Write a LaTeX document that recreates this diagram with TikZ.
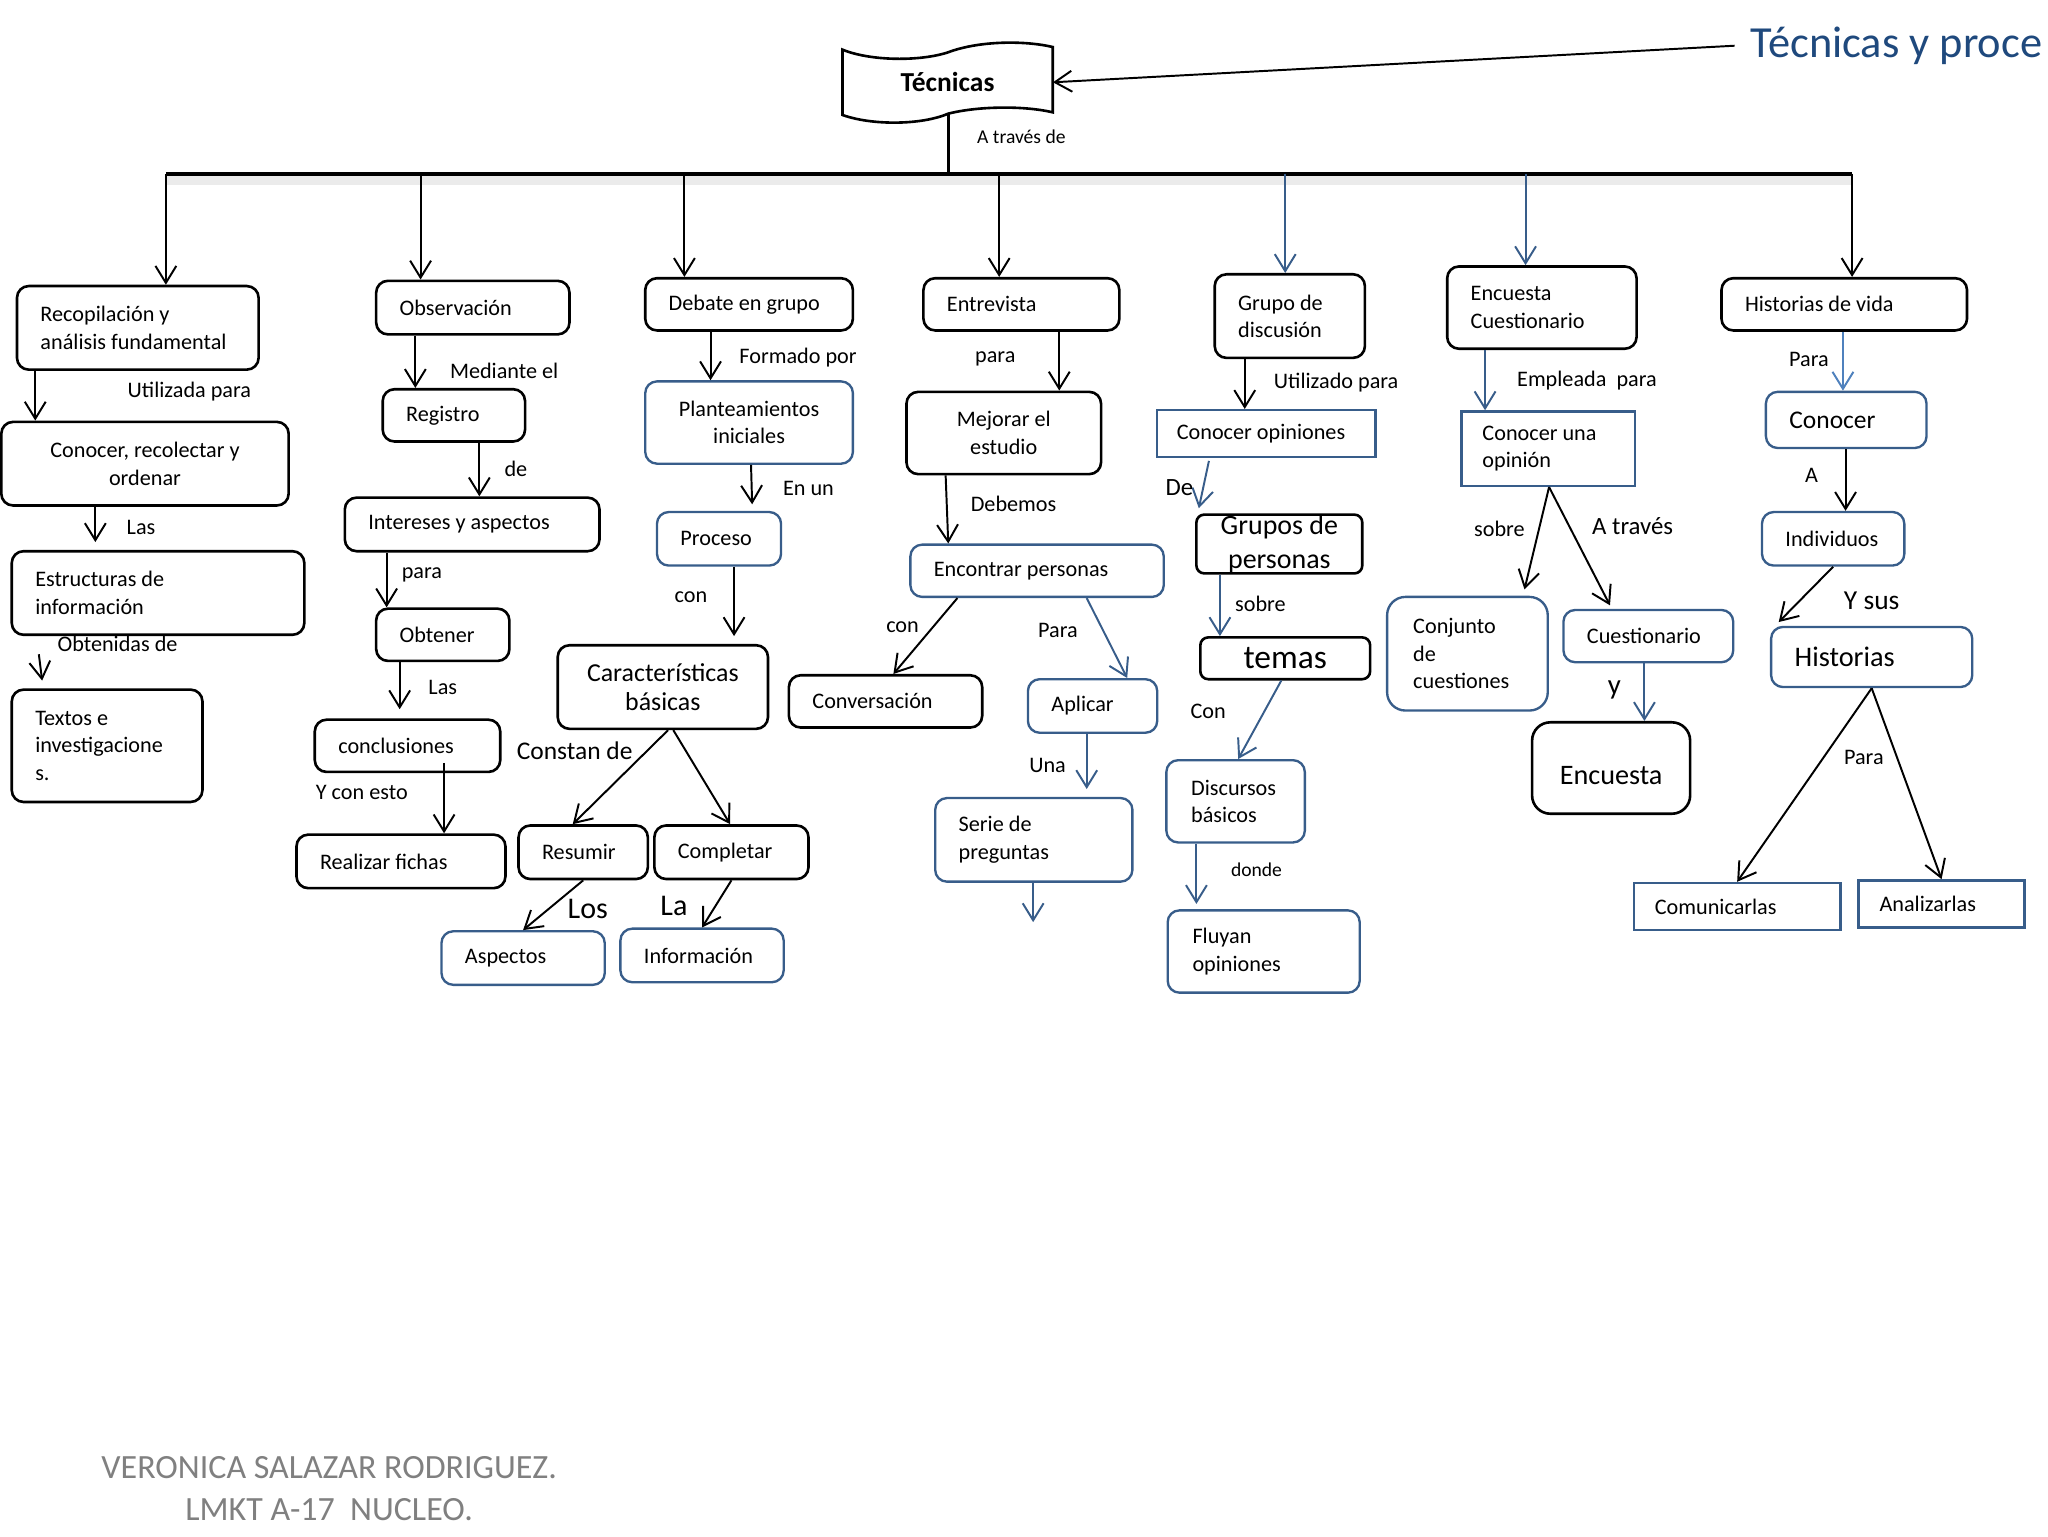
\documentclass[tikz,border=0pt]{standalone}
\usepackage{fontspec}
\setmainfont{Carlito}
\usetikzlibrary{arrows.meta}

\definecolor{cajaazul}{RGB}{56,93,138}
\definecolor{flechaclara}{RGB}{79,129,189}
\definecolor{tituloazul}{RGB}{31,73,125}
\definecolor{gris}{RGB}{128,128,128}

\tikzset{
  caja/.style={draw, rounded corners=9pt, line width=2pt, inner xsep=18pt,
    inner ysep=0pt, align=flush left, font=\fontsize{17}{21}\selectfont},
  azul/.style={draw=cajaazul, line width=1.8pt},
  centro/.style={align=flush center},
  etiq/.style={inner sep=0pt, font=\fontsize{17}{21}\selectfont},
  flecha/.style={-{Straight Barb[length=13pt,width=16pt]}, line width=1.5pt},
  fazul/.style={flecha, draw=cajaazul},
}

\begin{document}
\begin{tikzpicture}[x=1pt, y=-1pt]
  \useasboundingbox (0,0) rectangle (1568,1176);

  % título
  \draw[line width=2pt] (645,38) .. controls (667,47) and (705,47) .. (726,40)
    .. controls (750,31) and (785,31) .. (806,36) -- (806,86)
    .. controls (785,81) and (750,81) .. (726,87)
    .. controls (705,96) and (667,96) .. (645,88) -- cycle;
  \node[minimum width=161pt, minimum height=48pt, font=\bfseries\fontsize{21}{25}\selectfont] (tec) at (725.5,63) {Técnicas};
  \node[anchor=west, inner xsep=12pt, inner ysep=0pt, text=tituloazul,
    font=\fontsize{34}{40}\selectfont] (tit) at (1328,35) {Técnicas y proce};
  \draw[flecha] (tit.west) -- (tec.east);
  \node[etiq, font=\fontsize{15}{18}\selectfont] (lat) at (782,105) {A través de};

  % barra
  \coordinate (bt) at (726,133);
  \coordinate (b1) at (127,133);
  \coordinate (b2) at (322,133);
  \coordinate (b3) at (524,133);
  \coordinate (b4) at (765,133);
  \coordinate (b5) at (984,133);
  \coordinate (b6) at (1168,133);
  \coordinate (b7) at (1418,133);
  \draw[line width=2pt] (tec.south -| bt) -- (bt);
  \draw[line width=7pt, black!8] ([yshift=-5pt]b1) -- ([yshift=-5pt]b7);
  \draw[line width=3pt] (b1) -- (b7);

  % recopilación
  \node[caja, text width=149pt, minimum height=64pt] (rec) at (105.5,251) {Recopilación y\\análisis~fundamental};
  \node[caja, centro, text width=184pt, minimum height=64pt] (con) at (111,355) {Conocer, recolectar y\\ordenar};
  \node[caja, text width=188pt, minimum height=64pt] (est) at (121,454) {Estructuras de\\información};
  \node[caja, text width=110pt, minimum height=86pt] (tex) at (82,571) {Textos e\\investigacione\\s.};
  \draw[flecha] (b1) -- (b1 |- rec.north);
  \draw[flecha] (rec.south -| 27,0) -- (con.north -| 27,0);
  \draw[flecha, shorten >=6pt] (con.south -| 73,0) -- (est.north -| 73,0);
  \draw[flecha, shorten <=14pt, shorten >=6pt] (est.south -| 28,0) -- (tex.north -| 33,0);
  \node[etiq] (l11) at (145,300) {Utilizada para};
  \node[etiq] (l12) at (108,404) {Las};
  \node[etiq] (l13) at (90,493) {Obtenidas de};

  % observación
  \node[caja, text width=112pt, minimum height=41pt] (obs) at (362,235.5) {Observación};
  \node[caja, text width=73pt, minimum height=40pt] (reg) at (347.5,318) {Registro};
  \node[caja, text width=159pt, minimum height=41pt] (int) at (361.5,401.5) {Intereses~y~aspectos};
  \node[caja, text width=66pt, minimum height=40pt] (obt) at (339,486) {Obtener};
  \node[caja, text width=106pt, minimum height=40pt] (clu) at (312,571) {conclusiones};
  \node[caja, text width=124pt, minimum height=41pt] (fic) at (307,659.5) {Realizar~fichas};
  \draw[flecha] (b2) -- (b2 |- obs.north);
  \draw[flecha] (obs.south -| 318,0) -- (reg.north -| 318,0);
  \draw[flecha] (reg.south -| 367,0) -- (int.north -| 367,0);
  \draw[flecha] (int.south -| 296,0) -- (obt.north -| 296,0);
  \draw[flecha, shorten >=7pt] (obt.south -| 306,0) -- (clu.north -| 306,0);
  \draw[flecha, shorten <=-8pt] (clu.south -| 340,0) -- (fic.north -| 340,0);
  \node[etiq] (l21) at (386,284) {Mediante el};
  \node[etiq] (l22) at (395,359) {de};
  \node[etiq] (l23) at (323,440) {para};
  \node[etiq] (l24) at (339,526) {Las};
  \node[etiq] (l25) at (277,607) {Y con esto};

  % debate
  \node[caja, text width=123pt, minimum height=40pt] (deb) at (573.5,233) {Debate~en~grupo};
  \node[caja, azul, centro, text width=123pt, minimum height=63pt] (pla) at (573.5,323.5) {Planteamientos\\iniciales};
  \node[caja, azul, text width=59pt, minimum height=41pt] (pro) at (550.5,412.5) {Proceso};
  \node[caja, centro, inner xsep=10pt, text width=141pt, minimum height=64pt,
    font=\fontsize{19.8}{22}\selectfont] (car) at (507.5,526) {Características\\básicas};
  \node[caja, text width=63pt, minimum height=41pt] (res) at (446.5,652.5) {Resumir};
  \node[caja, text width=82pt, minimum height=41pt] (cmp) at (560,652.5) {Completar};
  \node[caja, azul, text width=89pt, minimum height=41pt] (asp) at (400.5,733.5) {Aspectos};
  \node[caja, azul, text width=89pt, minimum height=41pt] (inf) at (537.5,731.5) {Información};
  \draw[flecha] (b3) -- (b3 |- deb.north);
  \draw[flecha] (deb.south -| 544,0) -- (pla.north -| 544,0);
  \draw[flecha, shorten >=5pt] (pla.south -| 575,0) -- (pro.north -| 576,0);
  \draw[flecha, shorten >=6pt] (pro.south -| 562,0) -- (car.north -| 562,0);
  \draw[flecha] ([xshift=4pt]car.south) -- ([xshift=-8pt]res.north);
  \draw[flecha] ([xshift=8pt]car.south) -- ([xshift=-1pt]cmp.north);
  \draw[flecha] (res.south) -- (asp.north);
  \draw[flecha] (cmp.south) -- (inf.north);
  \node[etiq] (l31) at (611,274) {Formado por};
  \node[etiq] (l32) at (619,374) {En un};
  \node[etiq] (l33) at (529,457) {con};
  \node[etiq, font=\fontsize{19.5}{22}\selectfont] (l34) at (440,575) {Constan de};
  \node[etiq, font=\fontsize{23}{26}\selectfont] (l35) at (450,696) {Los};
  \node[etiq, font=\fontsize{23}{26}\selectfont] (l36) at (516,694) {La};

  % entrevista
  \node[caja, text width=114pt, minimum height=40pt] (ent) at (782,233) {Entrevista};
  \node[caja, centro, text width=113pt, minimum height=63pt] (mej) at (768.5,331.5) {Mejorar el\\estudio};
  \node[caja, azul, text width=158pt, minimum height=40pt] (enc) at (794,437) {Encontrar~personas};
  \node[caja, text width=112pt, minimum height=40pt] (cnv) at (678,537) {Conversación};
  \node[caja, azul, text width=63pt, minimum height=41pt] (apl) at (836.5,540.5) {Aplicar};
  \node[caja, azul, text width=115pt, minimum height=64pt] (ser) at (791.5,643) {Serie de\\preguntas};
  \coordinate (serfin) at (791,706);
  \draw[flecha] (b4) -- (b4 |- ent.north);
  \draw[flecha] (ent.south -| 811,0) -- (mej.north -| 811,0);
  \draw[flecha] (mej.south -| 724,0) -- (enc.north -| 726,0);
  \draw[flecha] (enc.south -| 733,0) -- (cnv.north -| 684,0);
  \draw[fazul] (enc.south -| 832,0) -- (apl.north -| 863,0);
  \draw[fazul, shorten >=6pt] (apl.south -| 832,0) -- (ser.north -| 832,0);
  \draw[fazul] (ser.south -| 791,0) -- (serfin);
  \node[etiq] (l41) at (762,275) {para};
  \node[etiq] (l42) at (776,386) {Debemos};
  \node[etiq] (l43) at (691,480) {con};
  \node[etiq] (l44) at (810,483) {Para};
  \node[etiq] (l45) at (802,586) {Una};

  % grupo de discusión
  \node[caja, text width=79pt, minimum height=64pt] (gdd) at (987.5,242) {Grupo de\\discusión};
  \node[caja, azul, sharp corners, inner xsep=15pt, text width=137pt, minimum height=36pt] (cop) at (969.5,332) {Conocer~opiniones};
  \node[caja, centro, rounded corners=6pt, inner xsep=6pt, text width=115pt, minimum height=45pt,
    font=\fontsize{21.4}{26}\selectfont] (gpe) at (979.5,416.5) {Grupos de\\personas};
  \node[caja, centro, rounded corners=6pt, inner xsep=6pt, text width=118pt, minimum height=32pt,
    font=\fontsize{25.6}{28}\selectfont] (tem) at (984,504) {temas};
  \node[caja, azul, inner xsep=19pt, text width=68pt, minimum height=63pt] (dis) at (946,613.5) {Discursos\\básicos};
  \node[caja, azul, inner xsep=19pt, text width=109pt, minimum height=63pt] (flu) at (967.5,728.5) {Fluyan\\opiniones};
  \draw[fazul] (b5) -- (b5 |- gdd.north);
  \draw[flecha] (gdd.south -| 953,0) -- (cop.north -| 953,0);
  \draw[fazul, shorten <=2pt, shorten >=4pt] (cop.south -| 926,0) -- (gpe.north -| 917,0);
  \draw[fazul] (gpe.south -| 934,0) -- (tem.north -| 934,0);
  \draw[fazul] (tem.south -| 981,0) -- (dis.north -| 948,0);
  \draw[fazul, shorten >=4pt] (dis.south -| 916,0) -- (flu.north -| 916,0);
  \node[etiq] (l51) at (1023,293) {Utilizado para};
  \node[etiq, font=\fontsize{19}{22}\selectfont] (l52) at (903,373) {De};
  \node[etiq] (l53) at (965,462) {sobre};
  \node[etiq] (l54) at (925,545) {Con};
  \node[etiq, font=\fontsize{15}{18}\selectfont] (l55) at (962,666) {donde};

  % encuesta
  \node[caja, text width=109pt, minimum height=63pt] (ecu) at (1180.5,235.5) {Encuesta\\Cuestionario};
  \node[caja, azul, sharp corners, inner xsep=16pt, text width=101pt, minimum height=57pt] (cuo) at (1185.5,343.5) {Conocer una\\opinión};
  \node[caja, azul, rounded corners=14pt, inner xsep=20pt, text width=83pt, minimum height=87pt] (cjt) at (1123.5,500.5) {Conjunto\\de\\cuestiones};
  \node[caja, azul, text width=94pt, minimum height=40pt] (cue) at (1262,487) {Cuestionario};
  \node[caja, centro, rounded corners=14pt, inner xsep=8pt, text width=105pt, minimum height=70pt,
    text height=26pt, text depth=0pt, font=\fontsize{21.6}{25}\selectfont] (enq) at (1233.5,588) {Encuesta};
  \draw[fazul] (b6) -- (b6 |- ecu.north);
  \draw[fazul] (ecu.south -| 1137,0) -- (cuo.north -| 1137,0);
  \draw[flecha, shorten >=5pt] (cuo.south -| 1186,0) -- (cjt.north -| 1166,0);
  \draw[flecha, shorten >=3pt] (cuo.south -| 1186,0) -- (cue.north -| 1234,0);
  \draw[fazul] (cue.south -| 1259,0) -- (enq.north -| 1259,0);
  \node[etiq] (l61) at (1215,291) {Empleada\ \ para};
  \node[etiq] (l62) at (1148,405) {sobre};
  \node[etiq, font=\fontsize{19}{22}\selectfont] (l63) at (1250,403) {A través};
  \node[etiq, font=\fontsize{22}{25}\selectfont] (l64) at (1236,528) {y};

  % historias de vida
  \node[caja, text width=152pt, minimum height=40pt] (hdv) at (1412,233) {Historias~de~vida};
  \node[caja, azul, text width=87pt, minimum height=43pt, font=\fontsize{19.5}{22}\selectfont] (cno) at (1413.5,321.5) {Conocer};
  \node[caja, azul, text width=73pt, minimum height=41pt] (ind) at (1403.5,412.5) {Individuos};
  \node[caja, azul, text width=118pt, minimum height=46pt, font=\fontsize{21.7}{25}\selectfont] (his) at (1433,503) {Historias};
  \node[caja, azul, sharp corners, inner xsep=16pt, text width=126pt, minimum height=36pt] (com) at (1330,694) {Comunicarlas};
  \node[caja, azul, sharp corners, inner xsep=16pt, text width=95pt, minimum height=36pt] (ana) at (1486.5,692) {Analizarlas};
  \draw[flecha] (b7) -- (b7 |- hdv.north);
  \draw[fazul, draw=flechaclara] (hdv.south -| 1411,0) -- (cno.north -| 1411,0);
  \draw[flecha] (cno.south -| 1413,0) -- (ind.north -| 1413,0);
  \draw[flecha, shorten >=4pt] (ind.south) -- (his.north -| 1359,0);
  \draw[flecha] (his.south) -- (com.north);
  \draw[flecha] (his.south) -- (ana.north);
  \node[etiq] (l71) at (1385,275) {Para};
  \node[etiq] (l72) at (1387,364) {A};
  \node[etiq, font=\fontsize{21}{24}\selectfont] (l73) at (1433,460) {Y sus};
  \node[etiq] (l74) at (1427,580) {Para};

  % pie
  \node[align=center, text=gris, font=\fontsize{26}{32}\selectfont] (pie) at (252,1140)
    {VERONICA SALAZAR RODRIGUEZ.\\LMKT A-17\ \ NUCLEO.};
\end{tikzpicture}
\end{document}
